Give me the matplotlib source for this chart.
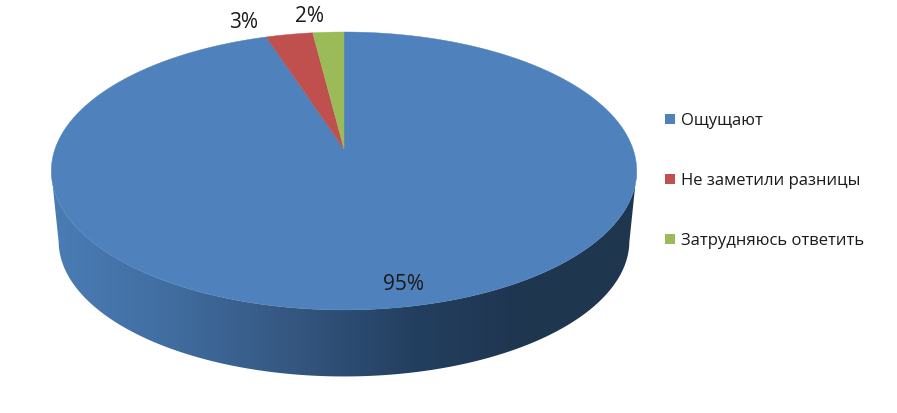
import matplotlib
matplotlib.use('Agg')
import numpy as np
import matplotlib.pyplot as plt
from matplotlib.colors import LinearSegmentedColormap
from matplotlib.patches import Polygon, Rectangle

labels = ['Ощущают', 'Не заметили разницы', 'Затрудняюсь ответить']
values = [95, 3, 2]
pct_text = ['95%', '3%', '2%']
colors = ['#4f81bd', '#c0504d', '#9bbb59']

# pie geometry in pixels, tilted with a perspective factor
cx, apex_y = 344, 150
scale_x, scale_y, k = 289.0, 135.5, 0.158
depth = 70

plt.rcParams['font.family'] = ['Open Sans', 'DejaVu Sans']


def project(t):
    # t is clockwise from 12 o'clock, radians
    u, v = np.sin(t), np.cos(t)
    w = 1 + k * v
    return cx + scale_x * u / w, apex_y - scale_y * v / w


fig = plt.figure(figsize=(8.97, 4.14), dpi=100)
ax = fig.add_axes([0, 0, 1, 1])
ax.set_xlim(0, 897)
ax.set_ylim(414, 0)
ax.axis('off')

# side wall: lower half of the top rim, then a slightly smaller rim below
tt = np.linspace(0, 2 * np.pi, 721)
rx, ry = project(tt)
mid_y = (ry.min() + ry.max()) / 2
front = ry >= mid_y
fx, fy = rx[front], ry[front]
order = np.argsort(fx)
fx, fy = fx[order], fy[order]
shrink = 0.975
bx = cx + (fx - cx) * shrink
by = mid_y + depth + (fy - mid_y) * shrink
wall = np.vstack([np.column_stack([fx, fy]),
                  np.column_stack([bx[::-1], by[::-1]])])
wall_patch = Polygon(wall, closed=True, facecolor='none', edgecolor='none')
ax.add_patch(wall_patch)
cmap = LinearSegmentedColormap.from_list('wall', [
    (0.0, '#4a7cb5'), (0.18, '#426fa3'), (0.42, '#34567f'),
    (0.62, '#233f60'), (0.8, '#1f3650'), (1.0, '#20364f')])
im = ax.imshow(np.linspace(0, 1, 400).reshape(1, -1), cmap=cmap, aspect='auto',
               extent=[fx.min(), fx.max(), 414, 0], zorder=1)
im.set_clip_path(wall_patch)
ax.set_xlim(0, 897)
ax.set_ylim(414, 0)

# top face
edges = np.cumsum([0] + values) / sum(values) * 2 * np.pi
for i in range(len(values)):
    t = np.linspace(edges[i], edges[i + 1], 400)
    x, y = project(t)
    pts = np.vstack([[cx, apex_y], np.column_stack([x, y])])
    ax.add_patch(Polygon(pts, closed=True, facecolor=colors[i],
                         edgecolor=colors[i], linewidth=0.3, zorder=2))

# percent labels
label_pos = [(403, 285), (244, 22), (309, 17)]
for s, (x, y) in zip(pct_text, label_pos):
    ax.text(x, y, s, ha='center', va='center', fontsize=15, color='#1a1a1a', zorder=3)

# legend
legend_y = [120, 180, 240]
for lab, col, y in zip(labels, colors, legend_y):
    ax.add_patch(Rectangle((665, y - 5), 10, 10, facecolor=col, edgecolor='none'))
    ax.text(681, y + 1, lab, ha='left', va='center', fontsize=12, color='#1a1a1a')

fig.savefig('out.png', dpi=100, facecolor='white')
